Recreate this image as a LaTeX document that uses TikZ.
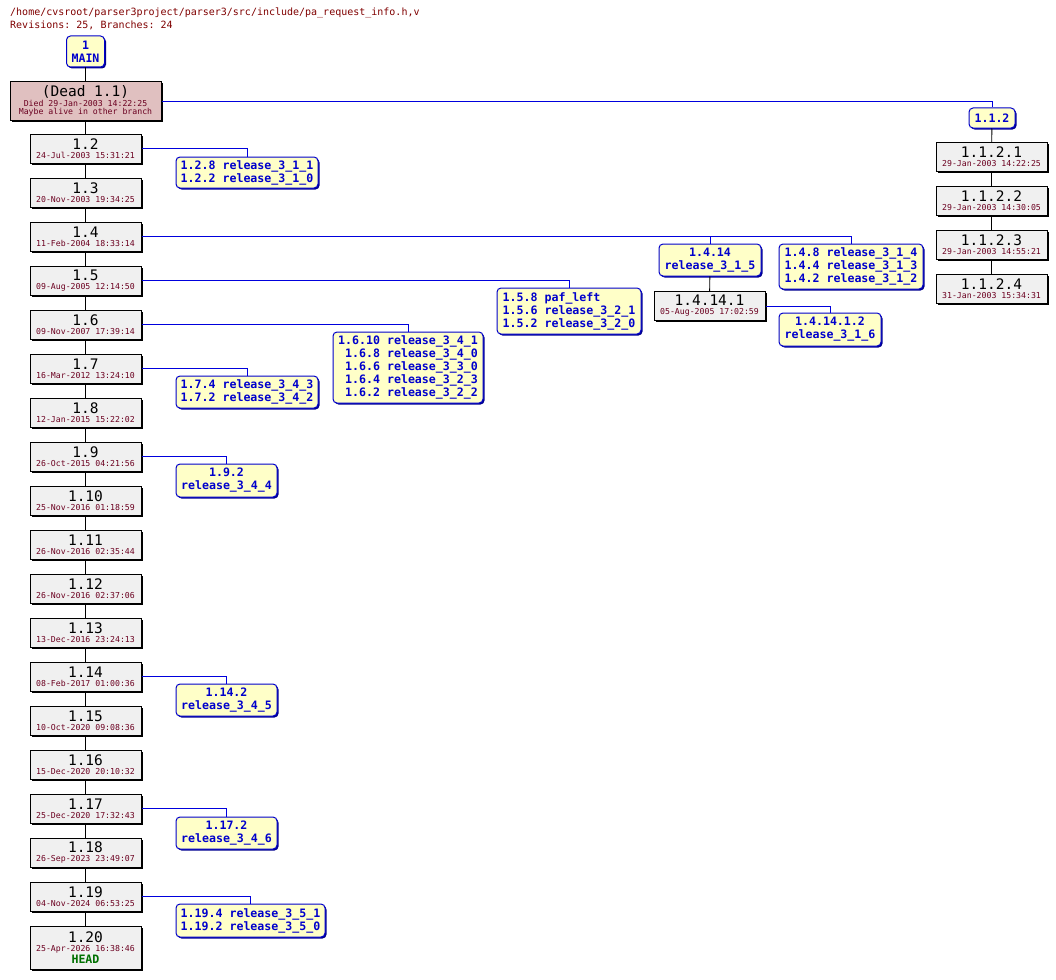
\documentclass[tikz,border=0pt]{standalone}
\usepackage{fontspec}
\setmonofont{DejaVu Sans Mono}
\usetikzlibrary{shadows}
\definecolor{tagfill}{HTML}{FFFFC8}
\definecolor{revfill}{HTML}{F0F0F0}
\definecolor{deadfill}{HTML}{E0C0C0}
\definecolor{datecol}{HTML}{6B0020}
\definecolor{hdrcol}{HTML}{800000}
\definecolor{tagblue}{HTML}{0000CC}
\definecolor{linkblue}{HTML}{0000DD}
\definecolor{headgreen}{HTML}{007000}
\newcommand{\rvf}{\fontsize{14.5}{15}\selectfont}
\newcommand{\dtf}{\fontsize{8.2}{9}\selectfont\color{datecol}}
\newcommand{\tgf}{\fontsize{11.6}{13}\selectfont\bfseries}
\tikzset{
  rev/.style={draw=black, line width=1pt, fill=revfill, minimum width=111pt, minimum height=29pt,
    inner sep=0pt, align=center, font=\ttfamily\fontsize{8}{9}\selectfont,
    general shadow={shadow xshift=1.5pt, shadow yshift=-1.5pt, fill=black}},
  tagbox/.style={draw=tagblue, line width=1pt, fill=tagfill, rounded corners=4pt, inner sep=0pt,
    align=center, text=tagblue, font=\ttfamily\tgf,
    general shadow={shadow xshift=1.5pt, shadow yshift=-1.5pt, fill=tagblue!70!black}},
  trunk/.style={draw=black, line width=0.9pt},
  branch/.style={draw=linkblue, line width=0.9pt},
  hdr/.style={anchor=base west, inner sep=0pt, text=hdrcol, font=\ttfamily\fontsize{10}{12}\selectfont},
}
\begin{document}
\begin{tikzpicture}[x=1pt, y=-1pt]
\useasboundingbox (0,0) rectangle (1056,979);
\fill[white] (0,0) rectangle (1056,979);

\node[hdr] (hdr1) at (10,15.5) {/home/cvsroot/parser3project/parser3/src/include/pa\_request\_info.h,v};
\node[hdr] (hdr2) at (10,28.5) {Revisions: 25, Branches: 24};

% main trunk
\node[tagbox, minimum width=38pt, minimum height=31pt] (main) at (85.5,51.5) {1\\MAIN};
\node[rev, fill=deadfill, minimum width=151pt, minimum height=38pt] (dead) at (85.5,101)
  {{\rvf (Dead 1.1)}\\[0.5pt]{\dtf Died 29-Jan-2003 14:22:25}\\[-0.8pt]{\dtf Maybe alive in other branch}};
\node[rev] (r2)  at (85.5,148.5) {{\rvf 1.2}\\{\dtf 24-Jul-2003 15:31:21}};
\node[rev] (r3)  at (85.5,192.5) {{\rvf 1.3}\\{\dtf 20-Nov-2003 19:34:25}};
\node[rev] (r4)  at (85.5,236.5) {{\rvf 1.4}\\{\dtf 11-Feb-2004 18:33:14}};
\node[rev] (r5)  at (85.5,280.5) {{\rvf 1.5}\\{\dtf 09-Aug-2005 12:14:50}};
\node[rev] (r6)  at (85.5,324.5) {{\rvf 1.6}\\{\dtf 09-Nov-2007 17:39:14}};
\node[rev] (r7)  at (85.5,368.5) {{\rvf 1.7}\\{\dtf 16-Mar-2012 13:24:10}};
\node[rev] (r8)  at (85.5,412.5) {{\rvf 1.8}\\{\dtf 12-Jan-2015 15:22:02}};
\node[rev] (r9)  at (85.5,456.5) {{\rvf 1.9}\\{\dtf 26-Oct-2015 04:21:56}};
\node[rev] (r10) at (85.5,500.5) {{\rvf 1.10}\\{\dtf 25-Nov-2016 01:18:59}};
\node[rev] (r11) at (85.5,544.5) {{\rvf 1.11}\\{\dtf 26-Nov-2016 02:35:44}};
\node[rev] (r12) at (85.5,588.5) {{\rvf 1.12}\\{\dtf 26-Nov-2016 02:37:06}};
\node[rev] (r13) at (85.5,632.5) {{\rvf 1.13}\\{\dtf 13-Dec-2016 23:24:13}};
\node[rev] (r14) at (85.5,676.5) {{\rvf 1.14}\\{\dtf 08-Feb-2017 01:00:36}};
\node[rev] (r15) at (85.5,720.5) {{\rvf 1.15}\\{\dtf 10-Oct-2020 09:08:36}};
\node[rev] (r16) at (85.5,764.5) {{\rvf 1.16}\\{\dtf 15-Dec-2020 20:10:32}};
\node[rev] (r17) at (85.5,808.5) {{\rvf 1.17}\\{\dtf 25-Dec-2020 17:32:43}};
\node[rev] (r18) at (85.5,852.5) {{\rvf 1.18}\\{\dtf 26-Sep-2023 23:49:07}};
\node[rev] (r19) at (85.5,896.5) {{\rvf 1.19}\\{\dtf 04-Nov-2024 06:53:25}};
\node[rev, minimum height=43pt] (r20) at (85.5,947.5)
  {{\rvf 1.20}\\{\dtf 25-Apr-2026 16:38:46}\\[1pt]{\tgf\color{headgreen}HEAD}};

\draw[trunk] (main) -- (dead);
\draw[trunk] (dead) -- (r2);
\foreach \a/\b in {2/3,3/4,4/5,5/6,6/7,7/8,8/9,9/10,10/11,11/12,12/13,13/14,14/15,15/16,16/17,17/18,18/19,19/20}
  \draw[trunk] (r\a) -- (r\b);

% branch 1.1.2
\node[tagbox, minimum width=46pt, minimum height=20pt] (t112) at (992,118) {1.1.2};
\node[rev] (b1) at (991.5,157) {{\rvf 1.1.2.1}\\{\dtf 29-Jan-2003 14:22:25}};
\node[rev] (b2) at (991.5,201) {{\rvf 1.1.2.2}\\{\dtf 29-Jan-2003 14:30:05}};
\node[rev] (b3) at (991.5,245) {{\rvf 1.1.2.3}\\{\dtf 29-Jan-2003 14:55:21}};
\node[rev] (b4) at (991.5,289) {{\rvf 1.1.2.4}\\{\dtf 31-Jan-2003 15:34:31}};
\draw[branch] (dead.east) -| (t112.north);
\draw[trunk] (t112) -- (b1);
\draw[trunk] (b1) -- (b2);
\draw[trunk] (b2) -- (b3);
\draw[trunk] (b3) -- (b4);

% tags on 1.2
\node[tagbox, minimum width=142pt, minimum height=31pt] (t12) at (247,172.5) {1.2.8 release\_3\_1\_1\\1.2.2 release\_3\_1\_0};
\draw[branch] (r2.east) -| (t12.north);

% 1.4 branches
\node[tagbox, minimum width=102pt, minimum height=32pt] (t1414) at (710,260) {1.4.14\\release\_3\_1\_5};
\node[tagbox, minimum width=144pt, minimum height=45pt] (t148) at (851,266.5)
  {1.4.8 release\_3\_1\_4\\1.4.4 release\_3\_1\_3\\1.4.2 release\_3\_1\_2};
\node[rev] (c1) at (709.5,306) {{\rvf 1.4.14.1}\\{\dtf 05-Aug-2005 17:02:59}};
\node[tagbox, minimum width=102pt, minimum height=33pt] (t14141) at (830,329.5) {1.4.14.1.2\\release\_3\_1\_6};
\draw[branch] (r4.east) -| (t148.north);
\draw[branch] (r4.east) -| (t1414.north);
\draw[trunk] (t1414) -- (c1);
\draw[branch] (c1.east) -| (t14141.north);

% 1.5 tags
\node[tagbox, minimum width=144pt, minimum height=46pt, align=left] (t158) at (569,311)
  {1.5.8 paf\_left\\1.5.6 release\_3\_2\_1\\1.5.2 release\_3\_2\_0};
\draw[branch] (r5.east) -| (t158.north);

% 1.6 tags
\node[tagbox, minimum width=150pt, minimum height=71pt, align=right] (t16) at (408,367.5)
  {1.6.10 release\_3\_4\_1\\1.6.8 release\_3\_4\_0\\1.6.6 release\_3\_3\_0\\1.6.4 release\_3\_2\_3\\1.6.2 release\_3\_2\_2};
\draw[branch] (r6.east) -| (t16.north);

% 1.7 tags
\node[tagbox, minimum width=142pt, minimum height=32pt] (t17) at (247,392) {1.7.4 release\_3\_4\_3\\1.7.2 release\_3\_4\_2};
\draw[branch] (r7.east) -| (t17.north);

% 1.9
\node[tagbox, minimum width=101pt, minimum height=33pt] (t19) at (226.5,480.5) {1.9.2\\release\_3\_4\_4};
\draw[branch] (r9.east) -| (t19.north);

% 1.14
\node[tagbox, minimum width=101pt, minimum height=32pt] (t114) at (226.5,700) {1.14.2\\release\_3\_4\_5};
\draw[branch] (r14.east) -| (t114.north);

% 1.17
\node[tagbox, minimum width=101pt, minimum height=32pt] (t117) at (226.5,833) {1.17.2\\release\_3\_4\_6};
\draw[branch] (r17.east) -| (t117.north);

% 1.19
\node[tagbox, minimum width=149pt, minimum height=33pt] (t119) at (250.5,920.5) {1.19.4 release\_3\_5\_1\\1.19.2 release\_3\_5\_0};
\draw[branch] (r19.east) -| (t119.north);
\end{tikzpicture}
\end{document}
